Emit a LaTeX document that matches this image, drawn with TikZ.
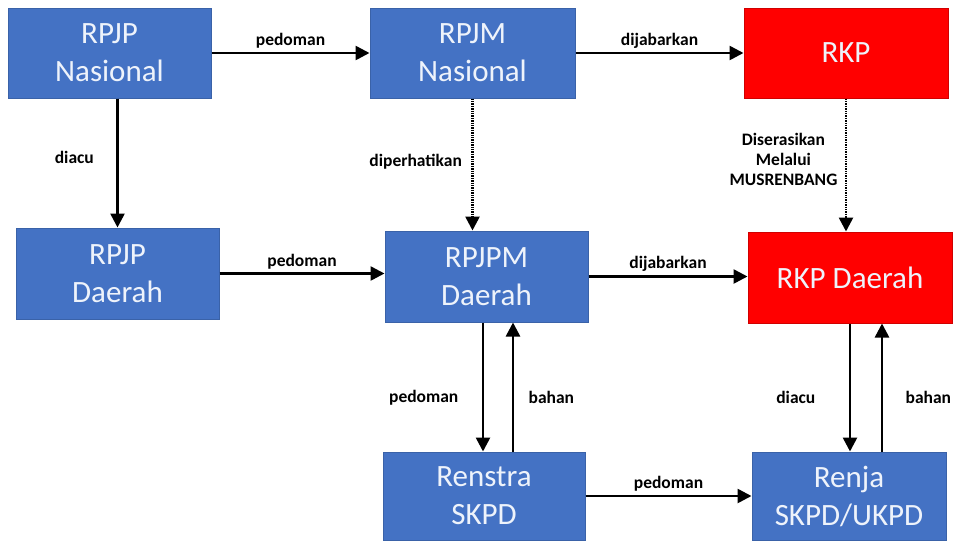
\documentclass[tikz,border=0pt]{standalone}
\usepackage{fontspec}
\setmainfont{Carlito}
\usepackage{xcolor}
\usetikzlibrary{arrows.meta}
\definecolor{boxblue}{HTML}{4472C4}
\definecolor{boxedge}{HTML}{3A62A8}
\definecolor{boxred}{HTML}{FF0000}
\definecolor{rededge}{HTML}{D00000}
\definecolor{boxtext}{HTML}{EEF3FB}
\tikzset{
 box/.style={draw=boxedge,fill=boxblue,text=boxtext,line width=1pt,minimum height=90pt,align=center,font=\fontsize{31}{38}\selectfont},
 redbox/.style={box,draw=rededge,fill=boxred},
 arr/.style={line width=2.6pt,-{Triangle[length=14pt,width=14pt]}},
 dotarr/.style={arr,dash pattern=on 1.4pt off 1pt},
 lbl/.style={font=\fontsize{17.5}{20}\selectfont\bfseries,text=black,align=center}
}

\begin{document}
\begin{tikzpicture}[x=1pt,y=-1pt]
\useasboundingbox (0,0) rectangle (953,544);

\node[box,minimum width=203pt](rpjpn)at(109.5,53){RPJP\\Nasional};
\node[box,minimum width=205pt](rpjmn)at(472.5,53){RPJM\\Nasional};
\node[redbox,minimum width=204pt](rkp)at(846,53){RKP};
\node[box,minimum width=203pt,minimum height=91pt](rpjpd)at(117.5,273.5){RPJP\\Daerah};
\node[box,minimum width=203pt,minimum height=91pt](rpjpmd)at(486.5,276.5){RPJPM\\Daerah};
\node[redbox,minimum width=204pt,minimum height=91pt](rkpd)at(850,277.5){RKP Daerah};
\node[box,minimum width=202pt,minimum height=88pt](renstra)at(484,496){Renstra\\SKPD};
\node[box,minimum width=194pt,minimum height=88pt](renja)at(849,496){Renja\\SKPD/UKPD};

\draw[arr](rpjpn.east)--(rpjmn.west)node[lbl,midway,above=0pt]{pedoman};
\draw[arr](rpjmn.east)--(rkp.west)node[lbl,midway,above=0pt]{dijabarkan};
\draw[arr](rpjpd.north|-rpjpn.south)--(rpjpd.north)node[lbl,midway,left=19pt,yshift=6pt]{diacu};
\draw[dotarr](rpjmn.south)--(rpjmn.south|-rpjpmd.north)node[lbl,midway,left=6pt,yshift=3pt]{diperhatikan};
\draw[dotarr](rkp.south)--(rkp.south|-rkpd.north)node[lbl,midway,left=4pt,yshift=6pt]{Diserasikan\\Melalui\\MUSRENBANG};
\draw[arr](rpjpd.east)--(rpjpd.east-|rpjpmd.west)node[lbl,midway,above=0pt]{pedoman};
\draw[arr](rpjpmd.east)--(rpjpmd.east-|rkpd.west)node[lbl,midway,above=0pt]{dijabarkan};
\draw[arr]([xshift=-1pt]renstra.north|-rpjpmd.south)--([xshift=-1pt]renstra.north)node[lbl,pos=0.58,left=20pt]{pedoman};
\draw[arr]([xshift=29pt]renstra.north)--([xshift=29pt]renstra.north|-rpjpmd.south)node[lbl,pos=0.42,right=11pt]{bahan};
\draw[arr]([xshift=1pt]renja.north|-rkpd.south)--([xshift=1pt]renja.north)node[lbl,pos=0.58,left=30pt]{diacu};
\draw[arr]([xshift=33pt]renja.north)--([xshift=33pt]renja.north|-rkpd.south)node[lbl,pos=0.42,right=19pt]{bahan};
\draw[arr](renstra.east)--(renja.west)node[lbl,midway,above=0pt]{pedoman};
\end{tikzpicture}
\end{document}
